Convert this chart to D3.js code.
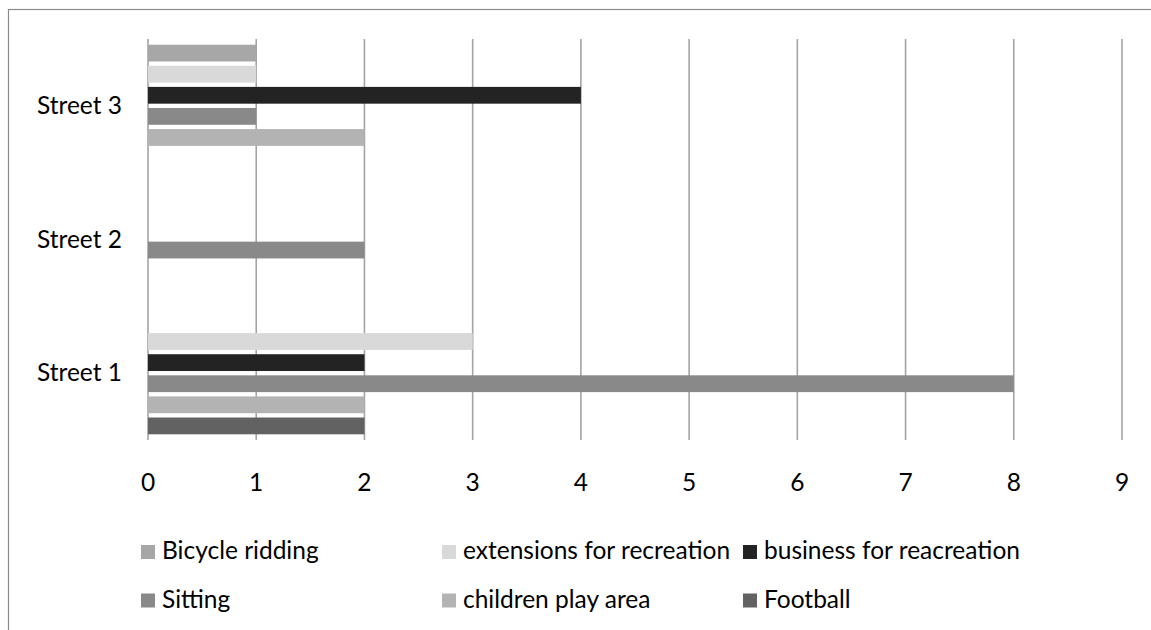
<!DOCTYPE html>
<html>
<head>
<meta charset="utf-8">
<script src="https://d3js.org/d3.v7.min.js"></script>
<style>
body{margin:0;background:#fff;}
text{font-family:Lato,'Open Sans',sans-serif;fill:#000;}
</style>
</head>
<body>
<div class="canvas"></div>
<script>

// chart values
var categories = ['Street 3','Street 2','Street 1'];
var seriesNames = ['Bicycle ridding','extensions for recreation','business for reacreation','Sitting','children play area','Football'];
var bicycle    = [1,0,0];
var extensions = [1,0,3];
var business   = [4,0,2];
var sitting    = [1,2,8];
var children   = [2,0,2];
var football   = [0,0,2];
var xTicks = [0,1,2,3,4,5,6,7,8,9];

var seriesValues = [bicycle,extensions,business,sitting,children,football];
var colors = ['#a7a7a7','#d9d9d9','#232323','#898989','#b3b3b3','#626262'];

var W = 1151, H = 630;
var margin = {t:39,l:148,r:29,b:190};
var fontSize = '24.5px';

var svg = d3.select('.canvas')
	.append('svg')
	.attr('width',W)
	.attr('height',H);

// outer chart border (runs off right and bottom)
svg.append('rect')
	.attr('x',8.5).attr('y',9.5)
	.attr('width',1170).attr('height',660)
	.attr('fill','none')
	.attr('stroke','#8a8a8a')
	.attr('stroke-width',1.2);

var scaleX = d3.scaleLinear().domain([0,9]).range([margin.l,W-margin.r]);
var scaleCat = d3.scaleBand().domain(categories)
	.range([margin.t,H-margin.b])
	.paddingInner(0.053)
	.paddingOuter(0.0265);
var scaleSer = d3.scaleBand().domain(seriesNames).range([0,scaleCat.bandwidth()]);

// vertical gridlines
svg.append('g').attr('class','grid')
	.selectAll('line')
	.data(xTicks)
	.enter()
	.append('line')
	.attr('x1',function(d){return scaleX(d)})
	.attr('x2',function(d){return scaleX(d)})
	.attr('y1',margin.t)
	.attr('y2',H-margin.b)
	.attr('stroke','#a4a4a4')
	.attr('stroke-width',1.6);

// flatten data
var rows = [];
seriesNames.forEach(function(s,i){
	categories.forEach(function(c,j){
		rows.push({series:s,cat:c,value:seriesValues[i][j],color:colors[i]});
	});
});

var gap = 4.3;
svg.append('g').attr('class','bars')
	.selectAll('rect')
	.data(rows.filter(function(d){return d.value>0}))
	.enter()
	.append('rect')
	.attr('x',scaleX(0))
	.attr('y',function(d){return scaleCat(d.cat)+scaleSer(d.series)+gap/2})
	.attr('width',function(d){return scaleX(d.value)-scaleX(0)})
	.attr('height',scaleSer.bandwidth()-gap)
	.attr('fill',function(d){return d.color});

// x tick labels
svg.append('g')
	.selectAll('text')
	.data(xTicks)
	.enter()
	.append('text')
	.attr('x',function(d){return scaleX(d)})
	.attr('y',491)
	.attr('text-anchor','middle')
	.style('font-size',fontSize)
	.text(function(d){return d});

// category labels
svg.append('g')
	.selectAll('text')
	.data(categories)
	.enter()
	.append('text')
	.attr('x',122)
	.attr('y',function(d){return scaleCat(d)+scaleCat.bandwidth()/2+8})
	.attr('text-anchor','end')
	.style('font-size',fontSize)
	.text(function(d){return d});

// legend, 3 per row
var legend = svg.append('g').attr('class','legend')
	.selectAll('g')
	.data(seriesNames)
	.enter()
	.append('g')
	.attr('transform',function(d,i){
		return 'translate('+(141+(i%3)*301)+','+(545+Math.floor(i/3)*48.5)+')';
	});

legend.append('rect')
	.attr('width',14).attr('height',14)
	.attr('fill',function(d,i){return colors[i]});

legend.append('text')
	.attr('x',21)
	.attr('y',14)
	.style('font-size',fontSize)
	.text(function(d){return d});

</script>
</body>
</html>
